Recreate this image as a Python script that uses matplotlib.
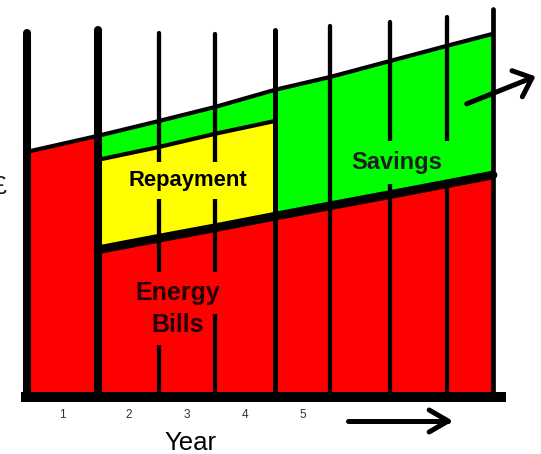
import matplotlib
matplotlib.use("Agg")
import matplotlib.pyplot as plt
import numpy as np

plt.rcParams['font.family'] = ['Liberation Sans', 'DejaVu Sans']

# ---- data (y in arbitrary £ units, x in years) ----
year_edges = [0.0, 1.219, 2.266, 3.227, 4.258, 5.202, 6.232, 7.21, 8.0]
cost_before = [6.13, 6.53, 6.90, 7.25, 7.68, 8.00, 8.40, 8.78, 9.08]   # top line at each edge
energy_after = [3.68, 3.97, 4.23, 4.52, 4.78, 5.06, 5.33, 5.55]        # edges 2..9
repayment = [2.25, 2.28, 2.35, 2.38]                                   # edges 2..5
divider_tops = [9.10, 9.18, 9.10, 9.08, 9.18, 9.28, 9.38, 9.50, 9.70]
year_labels = ['1', '2', '3', '4', '5']

RED, YEL, GRN = '#ff0000', '#ffff00', '#00ff00'

fig = plt.figure(figsize=(5.41, 4.54), dpi=100)
ax = fig.add_axes([27 / 541, 57 / 454, 466 / 541, 388 / 454])
ax.set_xlim(0, 8)
ax.set_ylim(0, 9.7)
for s in ax.spines.values():
    s.set_visible(False)
ax.set_yticks([])

x_all = np.array(year_edges)
top = np.array(cost_before)
e = np.array(energy_after)
x_after = x_all[1:]
x_rep = x_all[1:5]
rep_top = e[:4] + np.array(repayment)

# fills
ax.fill_between(x_all[:2], 0, top[:2], color=RED, lw=0, zorder=1)
ax.fill_between(x_after, 0, e, color=RED, lw=0, zorder=1)
ax.fill_between(x_rep, e[:4], rep_top, color=YEL, lw=0, zorder=1)
ax.fill_between(x_rep, rep_top, top[1:5], color=GRN, lw=0, zorder=1)
ax.fill_between(x_all[4:], e[3:], top[4:], color=GRN, lw=0, zorder=1)

# vertical dividers
widths = [5.8, 5.8, 3.1, 3.1, 3.6, 3.1, 3.1, 3.1, 3.4]
for x, t, w in zip(year_edges, divider_tops, widths):
    ax.plot([x, x], [0, t], color='k', lw=w, solid_capstyle='round',
            clip_on=False, zorder=2)

# boundary lines
ax.plot(x_all, top, color='k', lw=3, solid_capstyle='round',
        solid_joinstyle='round', clip_on=False, zorder=5)
ax.plot(x_after, e, color='k', lw=6.3, solid_capstyle='round',
        solid_joinstyle='round', clip_on=False, zorder=5)
ax.plot(x_rep, rep_top, color='k', lw=3, solid_capstyle='round',
        solid_joinstyle='round', clip_on=False, zorder=5)

# baseline
ax.plot([-0.103, 8.22], [0, 0], color='k', lw=7.2, solid_capstyle='butt',
        clip_on=False, zorder=6)

# labels inside regions
ax.text(2.755, 5.275, 'Repayment', ha='center', va='baseline', fontsize=15.8,
        fontweight='bold', color='k', zorder=3,
        bbox=dict(boxstyle='square,pad=0.38', fc=YEL, ec='none'))
ax.text(6.35, 5.71, 'Savings', ha='center', va='baseline', fontsize=17,
        fontweight='bold', color='#1e1e1e', zorder=3,
        bbox=dict(boxstyle='square,pad=0.42', fc=GRN, ec='none'))
ax.text(2.584, 2.425, 'Energy', ha='center', va='baseline', fontsize=18,
        fontweight='bold', color='#200000', zorder=3,
        bbox=dict(boxstyle='square,pad=0.35', fc=RED, ec='none'))
ax.text(2.584, 1.625, 'Bills', ha='center', va='baseline', fontsize=18,
        fontweight='bold', color='#200000', zorder=3,
        bbox=dict(boxstyle='square,pad=0.3', fc=RED, ec='none'))

# ticks
mids = [(a + b) / 2 for a, b in zip(year_edges[:-1], year_edges[1:])]
ax.set_xticks(mids[:len(year_labels)])
ax.set_xticklabels(year_labels)
ax.tick_params(axis='x', length=0, pad=9, labelsize=8.5, labelcolor='#333333')

fig.text(190 / 541, (454 - 450.5) / 454, 'Year', ha='center', va='baseline',
         fontsize=18.5, color='k')
fig.text(6 / 541, 1 - 187 / 454, '£', ha='right', va='center', fontsize=18,
         color='#222222')


def open_arrow(start, end, head_len, head_half, lw):
    tr = ax.transData
    p0 = tr.transform(start)
    p1 = tr.transform(end)
    d = (p1 - p0) / np.hypot(*(p1 - p0))
    n = np.array([-d[1], d[0]])
    h1 = p1 - d * head_len + n * head_half
    h2 = p1 - d * head_len - n * head_half
    inv = tr.inverted()
    pts = inv.transform(np.array([p0, p1]))
    head = inv.transform(np.array([h1, p1, h2]))
    kw = dict(color='k', lw=lw, solid_capstyle='round', solid_joinstyle='round',
              clip_on=False, zorder=7)
    ax.plot(pts[:, 0], pts[:, 1], **kw)
    ax.plot(head[:, 0], head[:, 1], **kw)


open_arrow((5.51, -0.6), (7.23, -0.6), 19, 11, 3.6)
open_arrow((7.55, 7.33), (8.67, 7.98), 16, 14, 3.6)

fig.savefig('out.png', dpi=100)
